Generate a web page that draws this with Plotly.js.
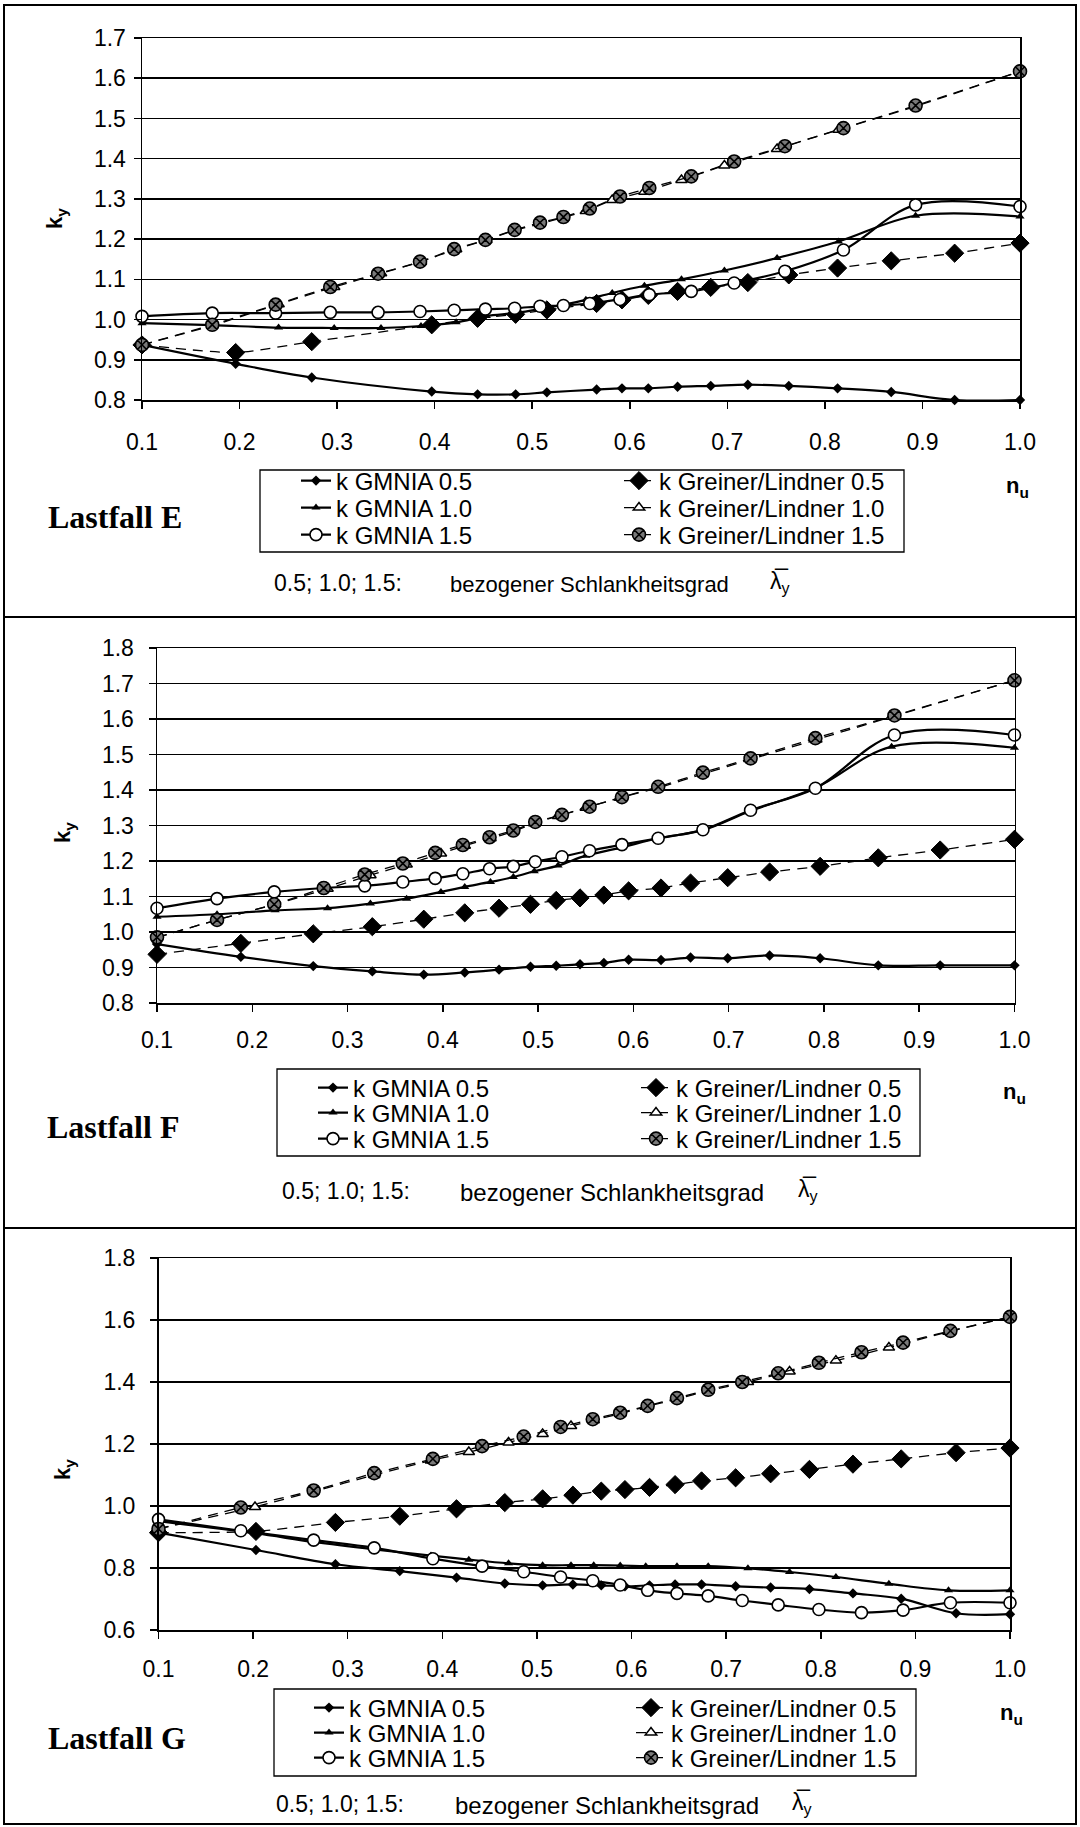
<!DOCTYPE html>
<html>
<head>
<meta charset="utf-8">
<script src="https://cdn.plot.ly/plotly-3.0.1.min.js"></script>
<style>html,body{margin:0;padding:0;background:#fff;}#chart{width:1080px;height:1827px;}</style>
</head>
<body>
<div id="chart"></div>
<script>
// ---------- DATA ----------
// Lastfall E
const E_x05 = [0.1,0.196,0.274,0.397,0.444,0.483,0.515,0.566,0.592,0.619,0.649,0.683,0.721,0.763,0.813,0.868,0.933,1.0];
const E_gmnia05 = [0.937,0.890,0.856,0.821,0.814,0.814,0.819,0.826,0.829,0.829,0.833,0.835,0.838,0.835,0.829,0.820,0.800,0.800];
const E_gl05 = [0.937,0.918,0.945,0.987,1.003,1.013,1.024,1.040,1.049,1.060,1.070,1.080,1.092,1.111,1.128,1.146,1.165,1.190];
const E_x10 = [0.1,0.172,0.240,0.297,0.345,0.386,0.422,0.453,0.482,0.508,0.532,0.555,0.582,0.615,0.653,0.697,0.751,0.814,0.893,1.0];
const E_gmnia10 = [0.991,0.986,0.980,0.979,0.979,0.984,0.993,1.009,1.016,1.026,1.037,1.049,1.066,1.084,1.100,1.122,1.153,1.194,1.258,1.256];
const E_gl10 = [0.937,0.985,1.038,1.081,1.115,1.144,1.175,1.198,1.222,1.238,1.254,1.270,1.297,1.318,1.347,1.383,1.424,1.472,1.530,1.617];
const E_x15 = [0.1,0.172,0.237,0.293,0.342,0.385,0.420,0.452,0.482,0.508,0.532,0.559,0.590,0.620,0.663,0.707,0.759,0.819,0.893,1.0];
const E_gmnia15 = [1.008,1.016,1.016,1.018,1.018,1.020,1.023,1.026,1.028,1.033,1.035,1.040,1.050,1.062,1.070,1.091,1.120,1.173,1.285,1.281];
const E_gl15 = [0.937,0.987,1.037,1.081,1.114,1.144,1.175,1.198,1.223,1.241,1.255,1.276,1.306,1.327,1.356,1.393,1.431,1.476,1.532,1.617];

// Lastfall F
const F_x05 = [0.1,0.188,0.264,0.326,0.380,0.423,0.459,0.492,0.519,0.544,0.569,0.595,0.629,0.660,0.699,0.743,0.796,0.857,0.922,1.0];
const F_gmnia05 = [0.966,0.930,0.904,0.889,0.880,0.886,0.894,0.902,0.905,0.909,0.913,0.922,0.921,0.928,0.926,0.934,0.926,0.906,0.906,0.906];
const F_gl05 = [0.937,0.968,0.995,1.015,1.036,1.054,1.067,1.078,1.089,1.096,1.104,1.116,1.124,1.138,1.153,1.169,1.185,1.209,1.231,1.261];
const F_x10 = [0.1,0.163,0.224,0.279,0.324,0.362,0.398,0.423,0.450,0.474,0.496,0.521,0.550,0.586,0.626,0.673,0.723,0.792,0.871,1.0];
const F_gmnia10 = [1.043,1.050,1.061,1.067,1.080,1.094,1.113,1.127,1.141,1.155,1.171,1.187,1.215,1.237,1.264,1.287,1.341,1.407,1.522,1.519];
const F_gl10 = [0.985,1.034,1.078,1.122,1.160,1.190,1.221,1.243,1.264,1.283,1.306,1.327,1.350,1.378,1.406,1.445,1.486,1.542,1.606,1.709];
const F_x15 = [0.1,0.163,0.223,0.275,0.318,0.358,0.392,0.421,0.449,0.474,0.497,0.525,0.554,0.588,0.626,0.673,0.723,0.791,0.874,1.0];
const F_gmnia15 = [1.067,1.094,1.113,1.124,1.130,1.141,1.151,1.164,1.178,1.185,1.198,1.212,1.229,1.246,1.264,1.288,1.343,1.405,1.555,1.555];
const F_gl15 = [0.985,1.034,1.078,1.124,1.162,1.193,1.223,1.245,1.267,1.286,1.310,1.330,1.353,1.380,1.409,1.449,1.489,1.546,1.610,1.709];

// Lastfall G
const G_x05 = [0.1,0.203,0.287,0.355,0.415,0.466,0.506,0.538,0.568,0.593,0.619,0.646,0.674,0.710,0.747,0.788,0.834,0.885,0.943,1.0];
const G_gmnia05 = [0.914,0.858,0.812,0.790,0.769,0.750,0.744,0.747,0.744,0.741,0.744,0.747,0.747,0.741,0.737,0.732,0.718,0.701,0.654,0.651];
const G_gl05 = [0.914,0.918,0.947,0.967,0.991,1.011,1.023,1.035,1.048,1.053,1.060,1.069,1.081,1.091,1.104,1.118,1.135,1.152,1.172,1.187];
const G_x10 = [0.1,0.202,0.264,0.328,0.388,0.428,0.470,0.506,0.536,0.560,0.588,0.615,0.648,0.681,0.723,0.767,0.816,0.872,0.935,1.0];
const G_gmnia10 = [0.951,0.912,0.884,0.860,0.840,0.827,0.815,0.809,0.809,0.809,0.808,0.806,0.806,0.806,0.799,0.787,0.771,0.749,0.728,0.728];
const G_gl10 = [0.926,0.997,1.047,1.100,1.147,1.174,1.205,1.232,1.258,1.277,1.298,1.320,1.345,1.372,1.400,1.434,1.469,1.511,1.562,1.610];
const G_x15 = [0.1,0.187,0.264,0.328,0.390,0.442,0.486,0.525,0.559,0.588,0.617,0.648,0.681,0.717,0.755,0.798,0.843,0.887,0.937,1.0];
const G_gmnia15 = [0.957,0.920,0.890,0.865,0.830,0.806,0.788,0.771,0.759,0.745,0.728,0.718,0.710,0.695,0.681,0.666,0.656,0.664,0.688,0.688];
const G_gl15 = [0.926,0.995,1.050,1.106,1.152,1.193,1.224,1.255,1.280,1.301,1.323,1.348,1.375,1.400,1.428,1.462,1.496,1.527,1.565,1.610];

const xTicks = [0.1,0.2,0.3,0.4,0.5,0.6,0.7,0.8,0.9,1.0];
const seriesNames = ['k GMNIA 0.5','k Greiner/Lindner 0.5','k GMNIA 1.0','k Greiner/Lindner 1.0','k GMNIA 1.5','k Greiner/Lindner 1.5'];
const caseLabels = ['Lastfall E','Lastfall F','Lastfall G'];
const noteLead = '0.5; 1.0; 1.5:';
const noteText = 'bezogener Schlankheitsgrad';

// ---------- LAYOUT HELPERS ----------
const W = 1080, H = 1827, ML = 140, MR = 58;
const PW = W - ML - MR;
const px = v => (v - ML) / PW;
const py = v => 1 - v / H;

const panels = [
  {xs:[E_x05,E_x05,E_x10,E_x10,E_x15,E_x15], ys:[E_gmnia05,E_gl05,E_gmnia10,E_gl10,E_gmnia15,E_gl15],
   xl:142, xr:1020, yt:38, yb:400, range:[0.8,1.7], dtick:0.1, std:14, ystd:3,
   box:{l:260, r:904, t:470, b:552}, cols:[296, 619], rows:[481, 508, 535],
   ky:{x:56,y:219}, nu:{x:1017,y:487}, lf:{x:46,y:517},
   note:{y:583, a:272, b:448, c:768, fs:22}},
  {xs:[F_x05,F_x05,F_x10,F_x10,F_x15,F_x15], ys:[F_gmnia05,F_gl05,F_gmnia10,F_gl10,F_gmnia15,F_gl15],
   xl:157, xr:1014.5, yt:648, yb:1003, range:[0.8,1.8], dtick:0.1, std:9, ystd:10,
   box:{l:277, r:920, t:1069, b:1156}, cols:[313, 636], rows:[1088, 1113, 1139],
   ky:{x:64,y:833}, nu:{x:1014,y:1093}, lf:{x:45,y:1127},
   note:{y:1191, a:280, b:458, c:796, fs:24}},
  {xs:[G_x05,G_x05,G_x10,G_x10,G_x15,G_x15], ys:[G_gmnia05,G_gl05,G_gmnia10,G_gl10,G_gmnia15,G_gl15],
   xl:158.5, xr:1010, yt:1258, yb:1630, range:[0.6,1.8], dtick:0.2, std:11, ystd:10,
   box:{l:274, r:916, t:1689, b:1776}, cols:[309, 631], rows:[1708, 1733, 1758],
   ky:{x:64,y:1470}, nu:{x:1011,y:1714}, lf:{x:46,y:1738},
   note:{y:1804, a:274, b:453, c:790, fs:24}}
];

const styles = [
  {dash:'solid', width:2.2, smoothing:1, marker:{symbol:'diamond', size:8, color:'#000', line:{width:0}}},
  {dash:'10px,7px', width:1.3, smoothing:0.6, marker:{symbol:'diamond', size:14, color:'#000', line:{width:1, color:'#000'}}},
  {dash:'solid', width:2.2, smoothing:1, marker:{symbol:'triangle-up', size:8, color:'#000', line:{width:0}}},
  {dash:'10px,7px', width:1.3, smoothing:0.6, marker:{symbol:'triangle-up', size:10, color:'#fff', line:{width:1.5, color:'#000'}}},
  {dash:'solid', width:2.2, smoothing:1, marker:{symbol:'circle', size:12, color:'#fff', line:{width:1.6, color:'#000'}}},
  {dash:'10px,7px', width:1.3, smoothing:0.6, marker:{symbol:'circle-x', size:13, color:'#7a7a7a', line:{width:1.6, color:'#000'}}}
];

const FONT = 'Liberation Sans, Arial, sans-serif';
const traces = [];
const layout = {
  width: W, height: H, paper_bgcolor:'#fff', plot_bgcolor:'#fff',
  margin:{l:ML, r:MR, t:0, b:0, pad:0}, autosize:false, showlegend:true,
  font:{family:FONT, color:'#000'},
  annotations:[], shapes:[]
};

panels.forEach((p, i) => {
  const sfx = i === 0 ? '' : String(i + 1);
  for (let k = 0; k < 6; k++) {
    const s = styles[k];
    const n = i * 6 + k + 1;
    const legId = n === 1 ? 'legend' : 'legend' + n;
    traces.push({
      type:'scatter', mode:'lines+markers', name: seriesNames[k],
      x: p.xs[k], y: p.ys[k], xaxis:'x' + sfx, yaxis:'y' + sfx, legend: legId,
      line:{color:'#000', width:s.width, dash:s.dash, shape:'spline', smoothing:s.smoothing},
      marker: s.marker, cliponaxis:false, hoverinfo:'skip'
    });
    layout[legId] = {
      x: px(p.cols[k % 2]), y: py(p.rows[Math.floor(k / 2)]), xanchor:'left', yanchor:'middle',
      xref:'paper', yref:'paper', orientation:'v',
      bgcolor:'rgba(0,0,0,0)', borderwidth:0,
      font:{family:FONT, size:24, color:'#000'}, itemclick:false, itemdoubleclick:false
    };
  }
  layout['xaxis' + sfx] = {
    domain:[px(p.xl), px(p.xr)], range:[0.1, 1.0], anchor:'y' + sfx,
    tickmode:'array', tickvals:xTicks, tickformat:'.1f',
    ticks:'outside', ticklen:7, tickwidth:1.5, tickcolor:'#000',
    showline:true, linecolor:'#000', linewidth:1.5, mirror:true,
    showgrid:false, zeroline:false, ticklabelstandoff:p.std,
    tickfont:{family:FONT, size:23, color:'#000'}, fixedrange:true
  };
  layout['yaxis' + sfx] = {
    domain:[py(p.yb), py(p.yt)], range:p.range, anchor:'x' + sfx,
    tick0:p.range[0], dtick:p.dtick, tickformat:'.1f',
    ticks:'outside', ticklen:7, tickwidth:1.5, tickcolor:'#000',
    showline:true, linecolor:'#000', linewidth:1.5, mirror:true,
    showgrid:true, gridcolor:'#000', gridwidth:1.5, zeroline:false,
    ticklabelstandoff:p.ystd,
    tickfont:{family:FONT, size:23, color:'#000'}, fixedrange:true
  };
  // legend frame
  layout.shapes.push({type:'rect', xref:'paper', yref:'paper', layer:'below',
    x0:px(p.box.l), x1:px(p.box.r), y0:py(p.box.b), y1:py(p.box.t),
    line:{color:'#000', width:1.3}, fillcolor:'#fff'});
  const A = layout.annotations;
  A.push({xref:'paper', yref:'paper', x:px(p.ky.x), y:py(p.ky.y), text:'<b>k<sub>y</sub></b>',
          showarrow:false, textangle:-90, font:{family:FONT, size:22}, xanchor:'center', yanchor:'middle'});
  A.push({xref:'paper', yref:'paper', x:px(p.nu.x), y:py(p.nu.y), text:'<b>n<sub>u</sub></b>',
          showarrow:false, font:{family:FONT, size:22}, xanchor:'center', yanchor:'middle'});
  A.push({xref:'paper', yref:'paper', x:px(p.lf.x), y:py(p.lf.y), text:'<b>' + caseLabels[i] + '</b>',
          showarrow:false, font:{family:'Liberation Serif, Times New Roman, serif', size:32}, xanchor:'left', yanchor:'middle'});
  A.push({xref:'paper', yref:'paper', x:px(p.note.a), y:py(p.note.y), text:noteLead,
          showarrow:false, font:{family:FONT, size:23}, xanchor:'left', yanchor:'middle'});
  A.push({xref:'paper', yref:'paper', x:px(p.note.b), y:py(p.note.y + 1), text:noteText,
          showarrow:false, font:{family:FONT, size:p.note.fs}, xanchor:'left', yanchor:'middle'});
  A.push({xref:'paper', yref:'paper', x:px(p.note.c), y:py(p.note.y - 1), text:'\u03BB\u0305<sub>y</sub>',
          showarrow:false, font:{family:FONT, size:23}, xanchor:'left', yanchor:'middle'});
});

// frame and panel separators
const frameLine = {color:'#000', width:2};
layout.shapes.push({type:'rect', xref:'paper', yref:'paper', x0:px(4), x1:px(1076), y0:py(1824), y1:py(5), line:frameLine, fillcolor:'rgba(0,0,0,0)'});
[617, 1228].forEach(v => layout.shapes.push({type:'line', xref:'paper', yref:'paper', x0:px(4), x1:px(1076), y0:py(v), y1:py(v), line:frameLine}));

Plotly.newPlot('chart', traces, layout, {displayModeBar:false, staticPlot:true});
</script>
</body>
</html>
